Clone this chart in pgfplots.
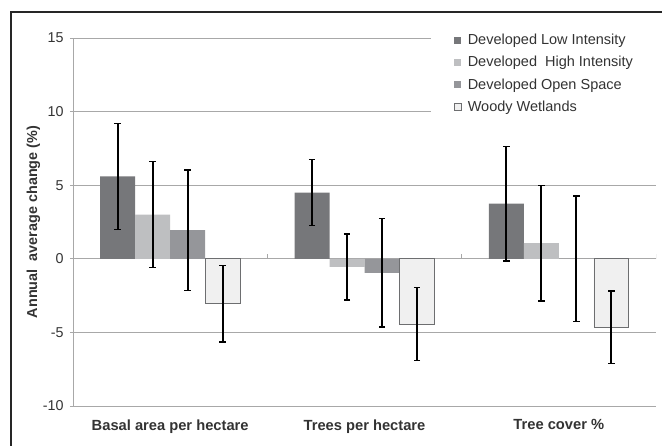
\documentclass[border=0pt]{standalone}
\usepackage{pgfplots}
\pgfplotsset{compat=1.18}
\usepackage{fontspec}
\setmainfont{Liberation Sans}
\definecolor{clow}{HTML}{76777A}
\definecolor{chigh}{HTML}{BEBFC1}
\definecolor{copen}{HTML}{95969A}
\definecolor{cwood}{HTML}{F0F0F0}
\definecolor{cwoodb}{HTML}{6D6E70}
\definecolor{cgrid}{HTML}{A8A8A8}
\begin{document}
\begin{tikzpicture}
\useasboundingbox (0,0) rectangle (662pt,446pt);
\draw[line width=1.2pt, black!85] (11pt,0pt) -- (11pt,434pt) -- (662pt,434pt);
\begin{axis}[
  at={(73pt,40pt)}, anchor=south west, scale only axis,
  width=583pt, height=368pt,
  xmin=-0.5, xmax=2.5, ymin=-10, ymax=15,
  ybar=0pt, bar width=0.18,
  axis y line*=left, axis x line*=bottom,
  x axis line style={draw=none},
  y axis line style={cgrid, line width=0.8pt, -},
  ytick={-10,-5,0,5,10,15}, yticklabels={-10,-5,0,5,10,15},
  xtick={0,1,2}, xticklabels={Basal area per hectare, Trees per hectare, Tree cover \%},
  xtick style={draw=none},
  ytick style={cgrid, line width=0.8pt},
  tick align=outside, major tick length=3pt,
  ymajorgrids, grid style={cgrid, line width=0.8pt},
  yticklabel style={font=\fontsize{14.3}{16}\selectfont, text=black!80, xshift=-3pt},
  xticklabel style={font=\fontsize{14.7}{17}\selectfont\bfseries, text=black!80, yshift=-7pt},
  ylabel={Annual\ \ average change (\%)},
  ylabel style={at={(axis description cs:-0.068,0.5)}, anchor=center, rotate=0, font=\fontsize{14.4}{16}\selectfont\bfseries, text=black!80},
  legend style={at={(0.614,1.027)}, anchor=north west, draw=none, fill=white,
    font=\fontsize{14.5}{16}\selectfont, text=black!80, row sep=6.2pt,
    inner xsep=23pt, inner ysep=4pt, /tikz/every odd column/.append style={column sep=4pt}},
  legend cell align=left,
  legend image code/.code={\path[#1] (0pt,-3.5pt) rectangle (7pt,3.5pt);},
  error bars/error bar style={black, line width=2.2pt},
  error bars/error mark options={rotate=90, mark size=3.2pt, black, line width=1.6pt},
]
\addplot[fill=clow, draw=none, error bars/.cd, y dir=both, y explicit]
  coordinates {(0,5.6) +- (0,3.6) (1,4.5) +- (0,2.25) (2,3.74) +- (0,3.9)};
\addplot[fill=chigh, draw=none, error bars/.cd, y dir=both, y explicit]
  coordinates {(0,3.0) +- (0,3.6) (1,-0.55) +- (0,2.25) (2,1.07) +- (0,3.92)};
\addplot[fill=copen, draw=none, error bars/.cd, y dir=both, y explicit]
  coordinates {(0,1.95) +- (0,4.1) (1,-0.95) +- (0,3.7) (2,0) +- (0,4.25)};
\addplot[fill=cwood, draw=cwoodb, line width=0.6pt, error bars/.cd, y dir=both, y explicit]
  coordinates {(0,-3.05) +- (0,2.6) (1,-4.42) +- (0,2.48) (2,-4.64) +- (0,2.46)};
\legend{Developed Low Intensity, Developed\ \ High Intensity, Developed Open\ Space, Woody Wetlands}
\draw[cgrid, line width=0.8pt] (axis cs:0.5,0) -- ([yshift=5pt]axis cs:0.5,0);
\draw[cgrid, line width=0.8pt] (axis cs:1.5,0) -- ([yshift=5pt]axis cs:1.5,0);
\draw[cgrid, line width=0.8pt] (axis cs:2.5,0) -- ([yshift=5pt]axis cs:2.5,0);
\end{axis}
\end{tikzpicture}
\end{document}
